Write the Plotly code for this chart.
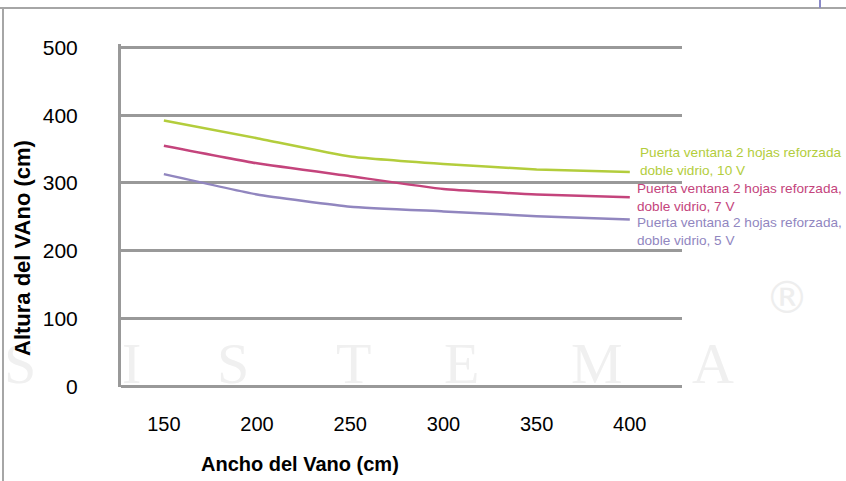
import plotly.graph_objects as go

# Span width of the opening (cm)
ancho = [150, 200, 250, 300, 350, 400]

# Maximum opening height (cm) for each glazing configuration
altura_10v = [392, 366, 339, 328, 320, 316]
altura_7v = [355, 329, 310, 291, 283, 279]
altura_5v = [313, 283, 265, 258, 251, 246]

series = [
    ("Puerta ventana 2 hojas reforzada<br>doble vidrio, 10 V", altura_10v, "#b3cd3c", 11, 8),
    ("Puerta ventana 2 hojas reforzada,<br>doble vidrio, 7 V", altura_7v, "#c4447c", 0, 5),
    ("Puerta ventana 2 hojas reforzada,<br>doble vidrio, 5 V", altura_5v, "#9186bf", -12, 5),
]

x_ticks = [150, 200, 250, 300, 350, 400]
y_ticks = [0, 100, 200, 300, 400, 500]

# Brand watermark letters behind the plot
marca_letras = ["S", "I", "S", "T", "E", "M", "A"]

W, H = 846, 481
ML, MR, MT, MB = 121, 164, 44, 94
PW, PH = W - ML - MR, H - MT - MB


def px_x(px):
    """Figure pixel column -> paper x."""
    return (px - ML) / PW


def px_y(py):
    """Figure pixel row (from top) -> paper y."""
    return (H - MB - py) / PH


fig = go.Figure()
for name, vals, color, _, _ in series:
    fig.add_trace(go.Scatter(
        x=ancho, y=vals, mode="lines", name=name,
        line=dict(color=color, width=2.5, shape="spline", smoothing=0.4),
        hoverinfo="skip",
    ))

annotations = []
for letra, cx in zip(marca_letras, [20, 131, 233, 353, 461, 597, 713]):
    annotations.append(dict(
        x=px_x(cx), y=px_y(363), xref="paper", yref="paper",
        text=letra, showarrow=False, xanchor="center", yanchor="middle",
        font=dict(family="Liberation Serif, serif", size=58, color="#f0f0f0"),
    ))
annotations.append(dict(
    x=px_x(787), y=px_y(297), xref="paper", yref="paper",
    text="\u00ae", showarrow=False, xanchor="center", yanchor="middle",
    font=dict(family="DejaVu Sans, sans-serif", size=44, color="#eeeeee"),
))

for name, vals, color, dy, dx in series:
    annotations.append(dict(
        x=ancho[-1], y=vals[-1], xref="x", yref="y",
        text=name, showarrow=False, xanchor="left", yanchor="middle",
        xshift=dx, yshift=dy, align="left",
        font=dict(family="Liberation Sans, Arial, sans-serif", size=13.6, color=color),
    ))

annotations.append(dict(
    x=px_x(300), y=px_y(464), xref="paper", yref="paper",
    text="<b>Ancho del Vano (cm)</b>", showarrow=False,
    xanchor="center", yanchor="middle",
    font=dict(family="Liberation Sans, Arial, sans-serif", size=20, color="black"),
))
annotations.append(dict(
    x=px_x(22), y=px_y(248), xref="paper", yref="paper",
    text="<b>Altura del VAno (cm)</b>", showarrow=False, textangle=-90,
    xanchor="center", yanchor="middle",
    font=dict(family="Liberation Sans, Arial, sans-serif", size=22, color="black"),
))

# Outer frame of the chart block
frame = "#a6a6a6"
shapes = [
    dict(type="line", xref="paper", yref="paper", x0=px_x(0), x1=px_x(W),
         y0=px_y(8), y1=px_y(8), line=dict(color=frame, width=2)),
    dict(type="line", xref="paper", yref="paper", x0=px_x(3), x1=px_x(3),
         y0=px_y(H), y1=px_y(8), line=dict(color=frame, width=2)),
    dict(type="line", xref="paper", yref="paper", x0=px_x(820), x1=px_x(820),
         y0=px_y(8), y1=px_y(0), line=dict(color="#8a8ac8", width=2)),
]

fig.update_layout(
    width=W, height=H,
    margin=dict(l=ML, r=MR, t=MT, b=MB),
    paper_bgcolor="white", plot_bgcolor="white",
    showlegend=False,
    font=dict(family="Liberation Sans, Arial, sans-serif", size=21, color="black"),
    annotations=annotations,
    shapes=shapes,
    xaxis=dict(
        range=[127, 428], tickvals=x_ticks, ticktext=[str(v) for v in x_ticks],
        showgrid=False, zeroline=False, showline=False, ticks="",
        ticklabelstandoff=23, tickfont=dict(size=20),
    ),
    yaxis=dict(
        range=[-1, 505], tickvals=y_ticks, ticktext=[str(v) for v in y_ticks],
        showgrid=True, gridcolor="#999999", gridwidth=3,
        zeroline=True, zerolinecolor="#999999", zerolinewidth=3,
        showline=True, linecolor="#999999", linewidth=3,
        ticks="", ticklabelstandoff=36, tickfont=dict(size=21),
    ),
)

fig.write_html("out.html")
